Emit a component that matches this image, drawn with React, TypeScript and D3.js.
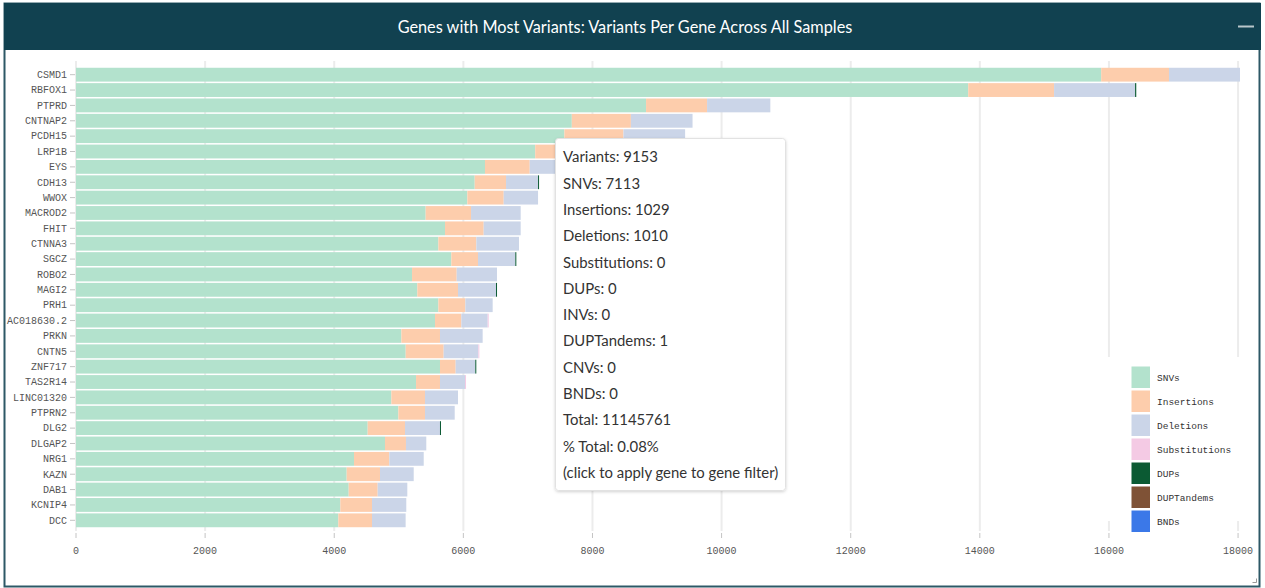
import React from "react";
import * as d3 from "d3";

const genes = ["CSMD1","RBFOX1","PTPRD","CNTNAP2","PCDH15","LRP1B","EYS","CDH13","WWOX","MACROD2","FHIT","CTNNA3","SGCZ","ROBO2","MAGI2","PRH1","AC018630.2","PRKN","CNTN5","ZNF717","TAS2R14","LINC01320","PTPRN2","DLG2","DLGAP2","NRG1","KAZN","DAB1","KCNIP4","DCC"];
const snvs = [15880,13820,8830,7680,7565,7113,6335,6176,6062,5416,5716,5613,5814,5205,5287,5613,5561,5040,5107,5638,5267,4885,4993,4518,4786,4306,4193,4224,4094,4063];
const insertions = [1050,1330,945,915,915,1029,693,485,563,703,599,588,413,692,630,418,408,598,588,243,371,521,413,578,325,547,516,449,491,522];
const deletions = [1100,1255,980,955,955,1010,950,496,532,769,573,661,578,624,589,423,408,661,537,304,388,511,460,542,315,533,522,459,531,521];
const substitutions = [0,0,0,0,0,0,0,0,0,0,0,0,0,0,0,0,10,0,8,0,8,0,0,0,0,0,0,0,0,0];
const dups = [0,18,0,0,0,0,0,12,0,0,0,0,12,0,12,0,0,0,0,12,0,0,0,12,0,0,0,0,0,0];
const dupTandems = [0,0,0,0,0,1,0,0,0,0,0,0,0,0,0,0,0,0,0,0,0,0,0,0,0,0,0,0,0,0];
const bnds = [0,0,0,0,0,0,0,0,0,0,0,0,0,0,0,0,0,0,0,0,0,0,0,0,0,0,0,0,0,0];

const seriesKeys = ["SNVs","Insertions","Deletions","Substitutions","DUPs","DUPTandems","BNDs"];
const seriesColors = ["#b3e2cd","#fdcdac","#cbd5e8","#f4cae4","#0b5a33","#7f5236","#3b78e8"];
const xTicks = [0,2000,4000,6000,8000,10000,12000,14000,16000,18000];
const title = "Genes with Most Variants: Variants Per Gene Across All Samples";
const tooltipLines = ["Variants: 9153","SNVs: 7113","Insertions: 1029","Deletions: 1010","Substitutions: 0","DUPs: 0","INVs: 0","DUPTandems: 1","CNVs: 0","BNDs: 0","Total: 11145761","% Total: 0.08%","(click to apply gene to gene filter)"];

const W = 1265, H = 588;
const mono = "'Liberation Mono', 'Courier New', monospace";
const sans = "Lato, 'Open Sans', sans-serif";

export default function App() {
  const table = genes.map((g, i) => ({
    gene: g,
    SNVs: snvs[i], Insertions: insertions[i], Deletions: deletions[i],
    Substitutions: substitutions[i], DUPs: dups[i], DUPTandems: dupTandems[i], BNDs: bnds[i],
  }));
  const totals = table.map(r => seriesKeys.reduce((s, k) => s + (r as any)[k], 0));
  const x = d3.scaleLinear().domain([0, d3.max(totals) as number]).range([76, 1240]);
  const y = d3.scaleBand<string>().domain(genes).range([67, 528]).paddingInner(0.1).paddingOuter(0.05);
  const stacked = d3.stack<any>().keys(seriesKeys)(table);
  const thin = (k: string) => k === "DUPs" || k === "DUPTandems" || k === "Substitutions";

  return (
    <div style={{ position: "fixed", left: 0, top: 0 }}>
      <svg width={W} height={H} style={{ display: "block" }}>
        <defs>
          <filter id="shadow" x="-10%" y="-10%" width="120%" height="120%">
            <feDropShadow dx="0" dy="1" stdDeviation="1.5" floodColor="#000" floodOpacity="0.18" />
          </filter>
        </defs>
        <rect x={0} y={0} width={W} height={H} fill="#fff" />
        <rect x={4.5} y={3.5} width={1255} height={583} fill="#fff" stroke="#2d5866" strokeWidth={2} />
        <rect x={4} y={3} width={1257} height={47} fill="#114150" />
        <text x={625} y={33} textAnchor="middle" fill="#fff" fontFamily={sans} fontSize={16.3}>{title}</text>
        <line x1={1238} x2={1254} y1={26.5} y2={26.5} stroke="#b9c6ca" strokeWidth={2} />

        {xTicks.map(t => (
          <g key={"g" + t}>
            <line x1={x(t)} x2={x(t)} y1={61} y2={531} stroke="#ececec" strokeWidth={2} />
            <line x1={x(t)} x2={x(t)} y1={533} y2={538} stroke="#c4c4c4" strokeWidth={1} />
            <text x={x(t)} y={554} textAnchor="middle" fontFamily={mono} fontSize={10} fill="#555">{t}</text>
          </g>
        ))}

        {stacked.map((s, si) => (
          <g key={s.key} fill={seriesColors[si]}>
            {s.map((d, i) => {
              const w = x(d[1]) - x(d[0]);
              if (w <= 0) return null;
              return <rect key={i} x={x(d[0])} y={y(genes[i])} width={thin(seriesKeys[si]) ? Math.max(w, 1) : w} height={y.bandwidth()} />;
            })}
          </g>
        ))}

        {genes.map(g => (
          <g key={"y" + g}>
            <line x1={70} x2={75} y1={(y(g) as number) + y.bandwidth() / 2} y2={(y(g) as number) + y.bandwidth() / 2} stroke="#c4c4c4" />
            <text x={67} y={(y(g) as number) + y.bandwidth() / 2} dy="0.33em" textAnchor="end" fontFamily={mono} fontSize={10} fill="#555">{g}</text>
          </g>
        ))}

        <rect x={1100} y={357} width={145} height={164} fill="#fff" />
        {seriesKeys.map((k, i) => (
          <g key={"l" + k}>
            <rect x={1131.5} y={366.5 + i * 24} width={18.5} height={21.5} fill={seriesColors[i]} />
            <text x={1157} y={377.5 + i * 24} dy="0.33em" fontFamily={mono} fontSize={9.5} fill="#333">{k}</text>
          </g>
        ))}

        <rect x={555.5} y={138.5} width={230} height={352} rx={3} fill="#fff" stroke="#e2e2e2" filter="url(#shadow)" />
        {tooltipLines.map((t, i) => (
          <text key={"t" + i} x={563} y={162.3 + i * 26.3} fontFamily={sans} fontSize={14.9} fill="#333">{t}</text>
        ))}

        <path d="M1252.5,582.5 L1256.5,582.5 L1256.5,578.5" fill="none" stroke="#999" strokeWidth={1} />
      </svg>
    </div>
  );
}
